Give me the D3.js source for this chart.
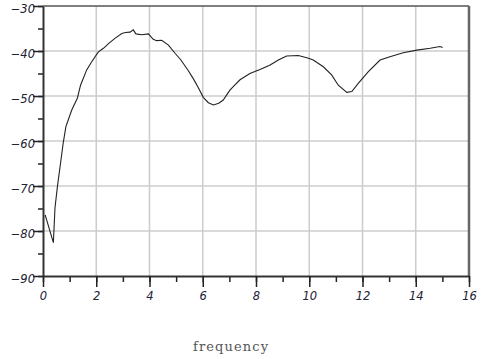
<!DOCTYPE html>
<head>
  <meta charset="utf-8">
  <script src="https://d3js.org/d3.v7.min.js"></script>
  <style>
    body { margin:0; background:#fff; }
    svg { display:block; }
  </style>
</head>
<body>
<script>
// curve
var freq = [0.08, 0.39, 0.45, 0.54, 0.66, 0.76, 0.86, 1.08, 1.29, 1.41, 1.64, 1.83, 2.08, 2.27, 2.45, 2.70, 2.96, 3.10, 3.27, 3.39, 3.49, 3.71, 3.96, 4.14, 4.27, 4.46, 4.71, 4.96, 5.18, 5.46, 5.65, 5.83, 6.02, 6.21, 6.40, 6.60, 6.77, 7.02, 7.20, 7.40, 7.77, 8.15, 8.53, 8.84, 9.15, 9.59, 9.97, 10.15, 10.53, 10.84, 11.09, 11.41, 11.60, 11.84, 12.22, 12.66, 13.03, 13.53, 14.04, 14.54, 14.91, 15.01];
var level = [-76.4, -82.6, -74.9, -70.2, -64.9, -60.4, -56.8, -53.1, -50.5, -47.6, -44.2, -42.4, -40.2, -39.4, -38.4, -37.2, -36.1, -35.9, -35.8, -35.3, -36.2, -36.4, -36.2, -37.4, -37.7, -37.6, -38.7, -40.5, -42.0, -44.4, -46.2, -48.1, -50.3, -51.5, -52.0, -51.6, -50.9, -48.7, -47.6, -46.4, -45.0, -44.1, -43.1, -42.0, -41.1, -41.0, -41.6, -42.0, -43.5, -45.3, -47.6, -49.2, -49.0, -47.2, -44.6, -42.0, -41.3, -40.4, -39.8, -39.4, -39.0, -39.2];
var xTicks = [0, 2, 4, 6, 8, 10, 12, 14, 16];
var yTicks = [-90, -80, -70, -60, -50, -40, -30];
var xLabel = "frequency";

var W = 486, H = 359;
var svg = d3.select("body").append("svg").attr("width", W).attr("height", H);

var x = d3.scaleLinear().domain([0, 16]).range([43, 469]);
var y = d3.scaleLinear().domain([-90, -30]).range([276, 6]);

// grid
svg.append("g").selectAll("line").data(xTicks.slice(1, -1)).enter().append("line")
  .attr("x1", d => x(d)).attr("x2", d => x(d)).attr("y1", 6).attr("y2", 276)
  .attr("stroke", "#cccccc").attr("stroke-width", 1.5);
svg.append("g").selectAll("line").data(yTicks.slice(1, -1)).enter().append("line")
  .attr("x1", 43).attr("x2", 469).attr("y1", d => y(d)).attr("y2", d => y(d))
  .attr("stroke", "#cccccc").attr("stroke-width", 1.5);

// top and right frame
svg.append("line").attr("x1", 43).attr("x2", 469).attr("y1", 6).attr("y2", 6)
  .attr("stroke", "#555").attr("stroke-width", 1.5);
svg.append("line").attr("x1", 469).attr("x2", 469).attr("y1", 6).attr("y2", 276)
  .attr("stroke", "#666").attr("stroke-width", 2.5);

// minor ticks
svg.append("g").attr("transform", "translate(0,276)")
  .call(d3.axisBottom(x).ticks(16).tickSize(6).tickFormat(""))
  .call(g => g.select(".domain").remove())
  .selectAll("line").attr("stroke", "#222").attr("stroke-width", 1.5);
svg.append("g").attr("transform", "translate(43,0)")
  .call(d3.axisLeft(y).ticks(12).tickSize(5).tickFormat(""))
  .call(g => g.select(".domain").remove())
  .selectAll("line").attr("stroke", "#222").attr("stroke-width", 1.5);

// major axes
var xa = svg.append("g").attr("transform", "translate(0,276)")
  .call(d3.axisBottom(x).tickValues(xTicks).tickSize(11).tickSizeOuter(0).tickPadding(5));
var ya = svg.append("g").attr("transform", "translate(43,0)")
  .call(d3.axisLeft(y).tickValues(yTicks).tickSize(10).tickSizeOuter(0).tickPadding(-2));
[xa, ya].forEach(function(a) {
  a.select(".domain").attr("stroke", "#333").attr("stroke-width", 2);
  a.selectAll(".tick line").attr("stroke", "#222").attr("stroke-width", 1.5);
  a.selectAll(".tick text")
    .attr("font-family", "'DejaVu Sans', sans-serif")
    .attr("font-style", "italic")
    .attr("font-size", 11.5)
    .attr("fill", "#223");
});
ya.selectAll(".tick text").attr("dy", "0.55em");

// curve
var line = d3.line().x(d => x(d[0])).y(d => y(d[1]));
svg.append("path").datum(d3.zip(freq, level))
  .attr("d", line).attr("fill", "none").attr("stroke", "#222").attr("stroke-width", 1.1);

svg.append("text").attr("x", 193).attr("y", 351)
  .attr("font-family", "'DejaVu Serif', serif").attr("font-size", 13).attr("fill", "#555")
  .attr("textLength", 75).attr("lengthAdjust", "spacing")
  .text(xLabel);
</script>
</body>
